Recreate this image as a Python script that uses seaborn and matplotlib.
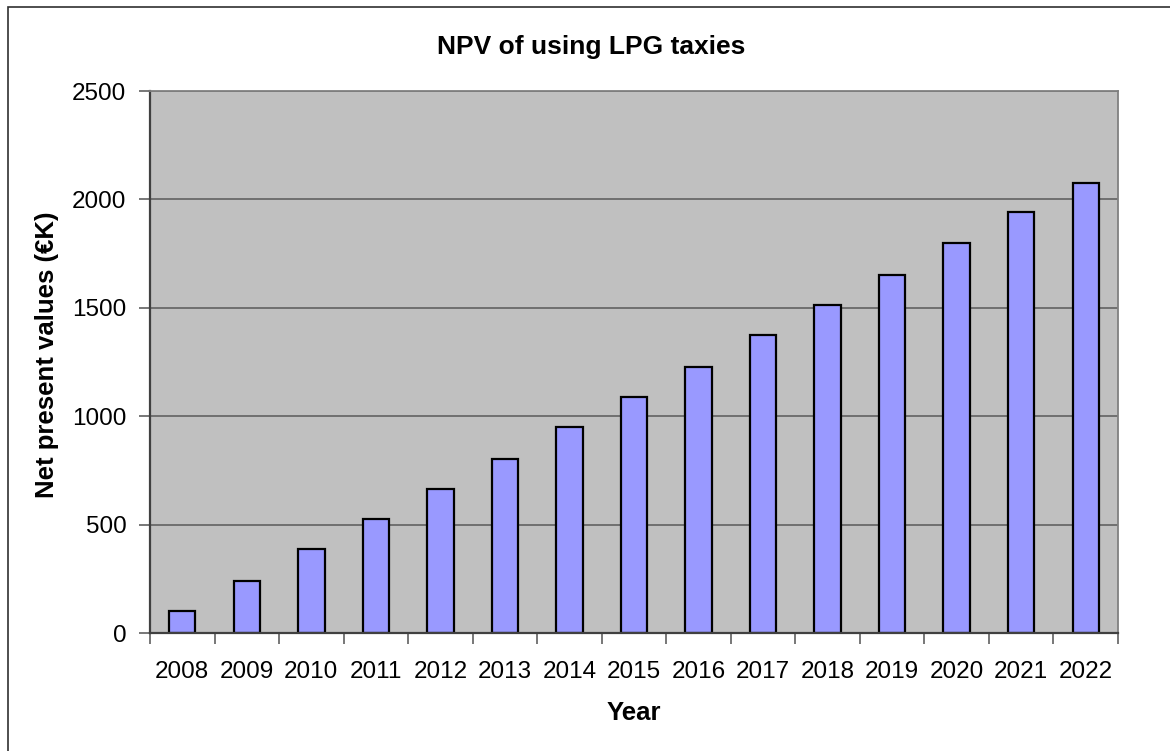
import matplotlib
matplotlib.use("Agg")
import matplotlib.pyplot as plt
from matplotlib.patches import Rectangle
import seaborn as sns
import pandas as pd

# Net present value of running LPG taxis, per year (thousand euro)
years = ["2008", "2009", "2010", "2011", "2012", "2013", "2014", "2015",
         "2016", "2017", "2018", "2019", "2020", "2021", "2022"]
npv = [102, 239, 387, 527, 665, 802, 950, 1090,
       1227, 1376, 1515, 1652, 1800, 1940, 2077]
y_ticks = [0, 500, 1000, 1500, 2000, 2500]

df = pd.DataFrame({"Year": years, "NPV": npv})

sns.set_theme(style="white")
plt.rcParams["font.family"] = ["Liberation Sans", "DejaVu Sans"]

W, H = 1170, 751
fig = plt.figure(figsize=(W / 100, H / 100), dpi=100)
ax = fig.add_axes([150 / W, (H - 633) / H, (1118 - 150) / W, (633 - 91) / H])
ax.set_facecolor("#C0C0C0")

sns.barplot(data=df, x="Year", y="NPV", ax=ax, color="#9999FF",
            saturation=1, width=0.41, edgecolor="black", linewidth=1.6,
            zorder=3)

ax.set_xlim(-0.5, len(years) - 0.5)
ax.set_ylim(0, 2500)
ax.set_yticks(y_ticks)
ax.set_yticklabels([str(t) for t in y_ticks])
ax.yaxis.grid(True, color="#5A5A5A", linewidth=1.1, zorder=1)
ax.set_axisbelow(True)

# category separators as tick marks below the axis
ax.set_xticks([i - 0.5 for i in range(len(years) + 1)], minor=True)
ax.tick_params(axis="x", which="minor", length=8, width=1.2,
               color="#606060", direction="out", bottom=True)
ax.tick_params(axis="x", which="major", length=0, pad=20, labelsize=17.5,
               labelcolor="black")
ax.tick_params(axis="y", which="major", length=8, width=1.2,
               color="#606060", direction="out", left=True, pad=9,
               labelsize=17.5, labelcolor="black")

for side in ("left", "bottom"):
    ax.spines[side].set_color("#404040")
    ax.spines[side].set_linewidth(1.6)
for side in ("top", "right"):
    ax.spines[side].set_color("#808080")
    ax.spines[side].set_linewidth(1.3)
ax.spines["bottom"].set_zorder(4)

ax.set_xlabel("")
ax.set_ylabel("")

fig.text(591 / W, 1 - 47 / H, "NPV of using LPG taxies", ha="center",
         va="center", fontsize=19, fontweight="bold", color="black")
fig.text(634 / W, 1 - 713 / H, "Year", ha="center", va="center",
         fontsize=18.5, fontweight="bold", color="black")
fig.text(47 / W, 1 - 355 / H, "Net present values (€K)", ha="center",
         va="center", rotation=90, fontsize=18.5, fontweight="bold",
         color="black")

# chart-area frame
fig.patches.append(Rectangle((8 / W, -0.05), 1.2, 1 - 7 / H + 0.05,
                             transform=fig.transFigure, fill=False,
                             edgecolor="#303030", linewidth=1.2))

fig.savefig("out.png", dpi=100)
